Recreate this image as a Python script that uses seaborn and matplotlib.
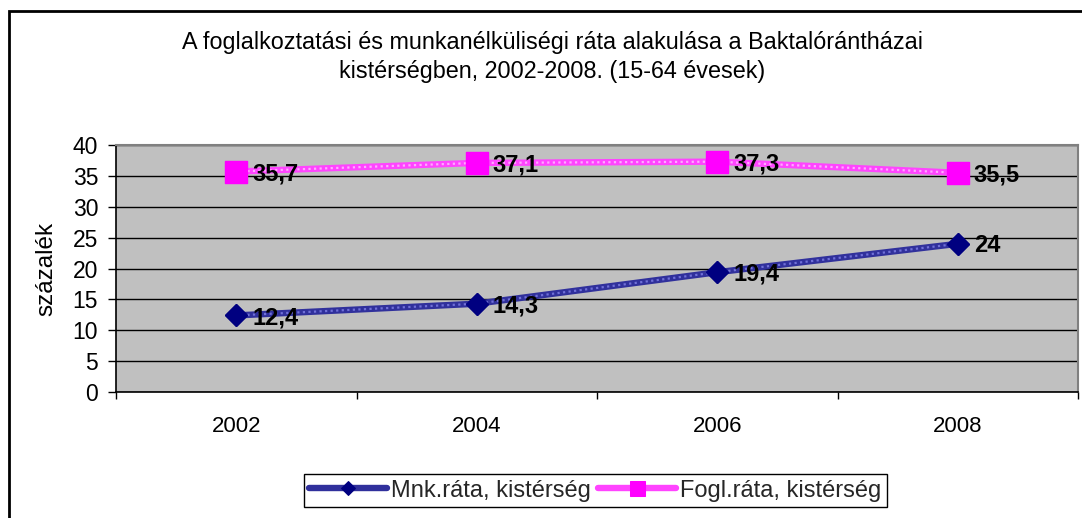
import numpy as np
import pandas as pd
import matplotlib
matplotlib.use("Agg")
import matplotlib.pyplot as plt
import matplotlib.patches as mpatches
from matplotlib.ticker import FixedLocator, MultipleLocator
import seaborn as sns

years = ["2002", "2004", "2006", "2008"]
mnk_rate = [12.4, 14.3, 19.4, 24.0]
fogl_rate = [35.7, 37.1, 37.3, 35.5]
mnk_labels = ["12,4", "14,3", "19,4", "24"]
fogl_labels = ["35,7", "37,1", "37,3", "35,5"]
series_names = ["Mnk.ráta, kistérség", "Fogl.ráta, kistérség"]
title = ("A foglalkoztatási és munkanélküliségi ráta alakulása a Baktalórántházai\n"
         "kistérségben, 2002-2008. (15-64 évesek)")
ylabel = "százalék"

sns.set_theme(style="white")
plt.rcParams["font.family"] = ["Liberation Sans", "DejaVu Sans"]

W, H = 1082, 518
fig = plt.figure(figsize=(W / 100, H / 100), dpi=100)
fig.patch.set_facecolor("white")

L, R, T, B = 116, 1078, 145, 392
ax = fig.add_axes([L / W, 1 - B / H, (R - L) / W, (B - T) / H])
ax.set_facecolor("#C0C0C0")

pos = np.arange(len(years))
df = pd.DataFrame({"pos": pos, "mnk": mnk_rate, "fogl": fogl_rate})

# Unemployment line (textured navy)
sns.lineplot(data=df, x="pos", y="mnk", ax=ax, color="#30309c", lw=4.6,
             marker="D", markersize=10.8, markerfacecolor="#000080",
             markeredgecolor="#000080", label=series_names[0], zorder=4)
# Employment line (textured magenta)
sns.lineplot(data=df, x="pos", y="fogl", ax=ax, color="#ff44ff", lw=4.6,
             marker="s", markersize=15.5, markerfacecolor="#FF00FF",
             markeredgecolor="#FF00FF", label=series_names[1], zorder=4)

# texture overlay
ax.plot(pos, mnk_rate, color="#7070d8", lw=1.6, ls=(0, (1, 1.5)), zorder=4.5)
ax.plot(pos, fogl_rate, color="#ffaaff", lw=1.6, ls=(0, (1, 1.5)), zorder=4.5)
# redraw markers on top of texture
ax.plot(pos, mnk_rate, ls="none", marker="D", markersize=10.8,
        markerfacecolor="#000080", markeredgecolor="#000080", zorder=5)
ax.plot(pos, fogl_rate, ls="none", marker="s", markersize=15.5,
        markerfacecolor="#FF00FF", markeredgecolor="#FF00FF", zorder=5)

for x, y, t in zip(pos, mnk_rate, mnk_labels):
    ax.annotate(t, (x, y), xytext=(11.5, -1.5), textcoords="offset points",
                ha="left", va="center", fontsize=17, fontweight="bold",
                color="black", zorder=6)
for x, y, t in zip(pos, fogl_rate, fogl_labels):
    ax.annotate(t, (x, y), xytext=(11.5, -1.5), textcoords="offset points",
                ha="left", va="center", fontsize=17, fontweight="bold",
                color="black", zorder=6)

ax.set_xlim(-0.5, len(years) - 0.5)
ax.set_ylim(0, 40)
ax.yaxis.set_major_locator(MultipleLocator(5))
ax.set_xticks(pos)
ax.set_xticklabels(years)
ax.xaxis.set_minor_locator(FixedLocator(np.arange(-0.5, len(years), 1.0)))
ax.tick_params(axis="x", which="major", length=0, pad=17, labelsize=16,
               labelcolor="black")
ax.tick_params(axis="x", which="minor", length=5, width=1, color="black",
               direction="out", bottom=True)
ax.tick_params(axis="y", which="major", length=5.8, width=1, color="black",
               direction="out", left=True, pad=7, labelsize=16.5,
               labelcolor="black")

ax.grid(axis="y", color="black", lw=1)
ax.grid(axis="x", visible=False)
ax.set_axisbelow(True)

for s in ["left", "bottom"]:
    ax.spines[s].set_color("black")
    ax.spines[s].set_linewidth(1.2)
for s in ["top", "right"]:
    ax.spines[s].set_color("#808080")
    ax.spines[s].set_linewidth(1.5)

ax.set_xlabel("")
ax.set_ylabel(ylabel, fontsize=17.5, color="black")
ax.yaxis.set_label_coords((57 - L) / (R - L), 0.5)

fig.text(552.5 / W, 1 - 57 / H, title, ha="center", va="center",
         fontsize=16.8, color="black", linespacing=1.35)

handles, labels = ax.get_legend_handles_labels()
leg = fig.legend(handles, labels, loc="center",
                 bbox_to_anchor=(595.5 / W, 1 - 490.5 / H), ncol=2,
                 fontsize=17, frameon=True, fancybox=False, framealpha=1,
                 edgecolor="black", handlelength=3.3, handletextpad=0.17,
                 columnspacing=0.3, borderpad=0.25, borderaxespad=0)
leg.get_frame().set_linewidth(1)
for h, ms in zip(leg.legend_handles, [7.2, 10.8]):
    h.set_markersize(ms)
if ax.get_legend():
    ax.get_legend().remove()

# outer chart border (extends past right/bottom image edges)
fig.patches.append(mpatches.Rectangle((9 / W, -0.2), 1.5, 1 - 11 / H + 0.2,
                                      transform=fig.transFigure, fill=False,
                                      edgecolor="black", lw=2))

fig.savefig("out.png", dpi=100, facecolor="white")
